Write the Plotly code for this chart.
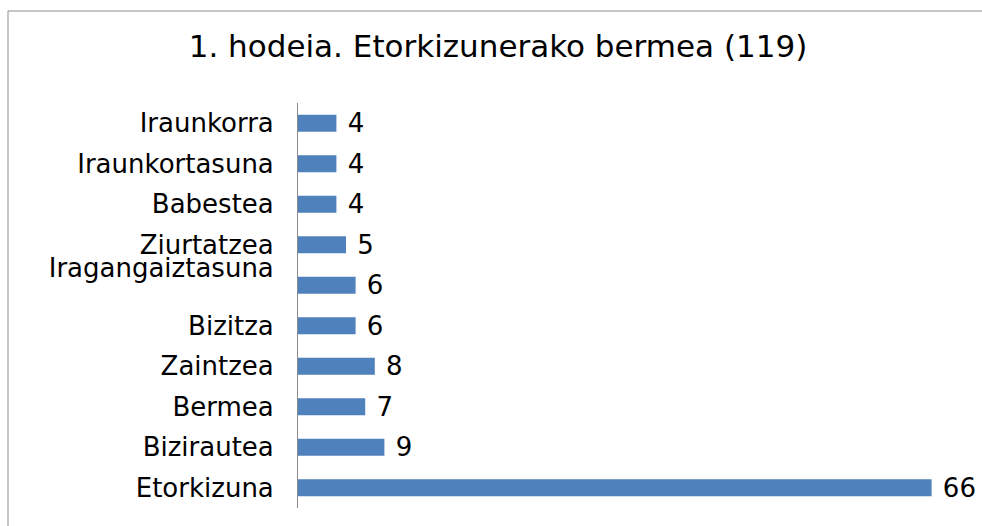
import plotly.graph_objects as go

# categories listed top to bottom, as in the chart
categories = [
    "Iraunkorra",
    "Iraunkortasuna",
    "Babestea",
    "Ziurtatzea",
    "Iragangaiztasuna<br> ",
    "Bizitza",
    "Zaintzea",
    "Bermea",
    "Bizirautea",
    "Etorkizuna",
]
counts = [4, 4, 4, 5, 6, 6, 8, 7, 9, 66]
title_text = "1. hodeia. Etorkizunerako bermea (119)"

W, H = 982, 526
left, right, top, bottom = 298, 970, 103, 508

fig = go.Figure(
    go.Bar(
        x=counts,
        y=categories,
        orientation="h",
        marker={"color": "#4F81BD", "line": {"width": 0}},
        text=counts,
        texttemplate=" %{x}",
        textposition="outside",
        constraintext="none",
        textfont={"size": 26, "color": "#000000"},
        cliponaxis=False,
        hoverinfo="x+y",
    )
)

fig.update_layout(
    width=W,
    height=H,
    margin={"l": left, "r": W - right, "t": top, "b": H - bottom},
    paper_bgcolor="white",
    plot_bgcolor="white",
    font={"family": "DejaVu Sans", "size": 26, "color": "#000000"},
    bargap=0.58,
    showlegend=False,
    title={
        "text": title_text,
        "x": 498 / W,
        "xanchor": "center",
        "y": 1 - 46 / H,
        "yanchor": "middle",
        "font": {"size": 31, "color": "#000000"},
    },
)
fig.update_xaxes(range=[0, 70], visible=False, showgrid=False, zeroline=False)
fig.update_yaxes(
    autorange="reversed",
    showline=True,
    linecolor="#8c8c8c",
    linewidth=1,
    ticks="",
    ticklabelstandoff=18,
    showgrid=False,
)

# outer chart border (partly cropped in the reference)
pw, ph = right - left, bottom - top
fig.add_shape(
    type="rect",
    xref="paper",
    yref="paper",
    x0=(8 - left) / pw,
    x1=(W + 10 - left) / pw,
    y0=(bottom - (H + 10)) / ph,
    y1=(bottom - 11) / ph,
    line={"color": "#8c8c8c", "width": 1},
    fillcolor="rgba(0,0,0,0)",
    layer="below",
)

fig.write_html(
    "out.html",
    config={"displayModeBar": False},
    post_script="document.body.style.margin='0';document.body.style.overflow='hidden';",
)
